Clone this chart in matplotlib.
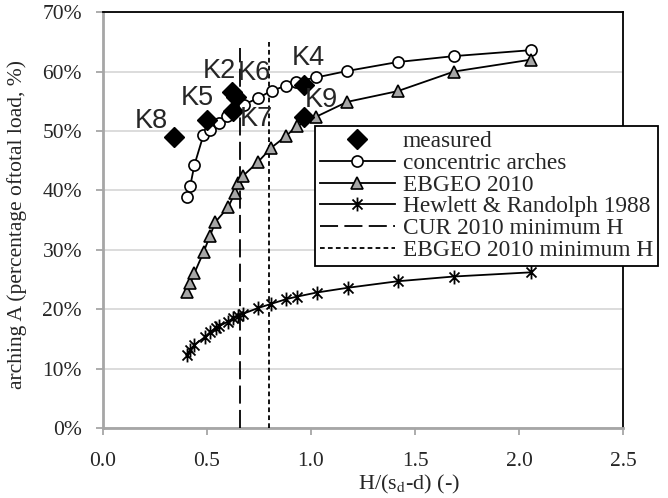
import matplotlib
matplotlib.use("Agg")
import matplotlib.pyplot as plt
from matplotlib.path import Path
from matplotlib.ticker import PercentFormatter, MultipleLocator

plt.rcParams['font.family'] = ['Liberation Serif', 'DejaVu Serif']
plt.rcParams['mathtext.fontset'] = 'stix'

# measured points
meas_names = ['K8', 'K5', 'K2', 'K6', 'K7', 'K4', 'K9']
meas_x = [0.341, 0.500, 0.620, 0.640, 0.625, 0.965, 0.965]
meas_y = [48.9, 51.8, 56.5, 55.8, 53.3, 57.7, 52.3]

# concentric arches
conc_x = [0.403, 0.420, 0.440, 0.483, 0.515, 0.557, 0.597, 0.635, 0.676, 0.743,
          0.812, 0.880, 0.927, 1.025, 1.174, 1.416, 1.687, 2.056]
conc_y = [38.9, 40.8, 44.3, 49.3, 50.1, 51.3, 52.5, 53.5, 54.4, 55.5,
          56.8, 57.6, 58.3, 59.0, 60.1, 61.6, 62.6, 63.6]

# EBGEO 2010
ebgeo_x = [0.403, 0.420, 0.440, 0.485, 0.515, 0.541, 0.603, 0.633, 0.651, 0.675,
           0.743, 0.810, 0.882, 0.931, 1.025, 1.174, 1.416, 1.687, 2.056]
ebgeo_y = [22.9, 24.4, 26.1, 29.7, 32.4, 34.7, 37.2, 39.5, 41.2, 42.5,
           44.7, 47.2, 49.2, 50.8, 52.4, 54.9, 56.7, 60.0, 62.0]

# Hewlett & Randolph 1988
hr_x = [0.403, 0.420, 0.440, 0.490, 0.517, 0.545, 0.557, 0.600, 0.627, 0.648,
        0.672, 0.746, 0.809, 0.882, 0.931, 1.027, 1.176, 1.416, 1.687, 2.056]
hr_y = [12.3, 13.2, 14.0, 15.3, 16.2, 16.8, 17.1, 17.9, 18.5, 18.8,
        19.2, 20.2, 20.9, 21.7, 22.1, 22.8, 23.6, 24.7, 25.5, 26.2]

# minimum H lines
cur_min_x = 0.66
cur_min_top = 64.0
ebgeo_min_x = 0.80
ebgeo_min_top = 65.0

# label offsets in pixels
label_offsets = {'K8': (-23, 16), 'K5': (-10, 22), 'K2': (-13, 21), 'K6': (18, 24),
                 'K7': (23, -8), 'K4': (5, 27), 'K9': (18, 17)}

# Excel-like asterisk marker
d = 0.72
star = Path([(0, -1), (0, 1), (-d, -d), (d, d), (-d, d), (d, -d)],
            [Path.MOVETO, Path.LINETO, Path.MOVETO, Path.LINETO, Path.MOVETO, Path.LINETO])

fig = plt.figure(figsize=(6.68, 4.98), dpi=100)
ax = fig.add_axes([0.154, 0.1406, 0.779, 0.835])

ax.yaxis.grid(True, color='#d9d9d9', linewidth=1.3)
ax.set_axisbelow(True)

ax.plot(meas_x, meas_y, linestyle='none', marker='D', markersize=10,
        color='black', label='measured', zorder=5)
ax.plot(conc_x, conc_y, color='black', lw=1.3, marker='o', markersize=8,
        markerfacecolor='white', markeredgecolor='black', markeredgewidth=1.2,
        label='concentric arches', zorder=4)
ax.plot(ebgeo_x, ebgeo_y, color='black', lw=1.3, marker='^', markersize=9,
        markerfacecolor='#a6a6a6', markeredgecolor='black', markeredgewidth=1.2,
        label='EBGEO 2010', zorder=4)
ax.plot(hr_x, hr_y, color='black', lw=1.3, marker=star, markersize=10,
        markeredgecolor='black', markeredgewidth=1.3,
        label='Hewlett & Randolph 1988', zorder=4)
ax.plot([cur_min_x, cur_min_x], [0, cur_min_top], color='black', lw=1.3,
        dashes=(10, 3.5), label='CUR 2010 minimum H', zorder=3)
ax.plot([ebgeo_min_x, ebgeo_min_x], [0, ebgeo_min_top], color='black', lw=1.3,
        dashes=(2.6, 1.8), label='EBGEO 2010 minimum H', zorder=3)

for name, x, y in zip(meas_names, meas_x, meas_y):
    ax.annotate(name, (x, y), xytext=label_offsets[name], textcoords='offset pixels',
                ha='center', va='center', fontsize=19.5, family='Liberation Sans',
                color='#262626', zorder=6)

ax.set_xlim(0, 2.5)
ax.set_ylim(0, 70)
ax.xaxis.set_major_locator(MultipleLocator(0.5))
ax.yaxis.set_major_locator(MultipleLocator(10))
ax.yaxis.set_major_formatter(PercentFormatter(100, decimals=0))
ax.xaxis.set_major_formatter(plt.FuncFormatter(lambda v, p: f"{v:.1f}"))

for s in ['left', 'bottom']:
    ax.spines[s].set_color('#a6a6a6')
    ax.spines[s].set_linewidth(2)
for s in ['top', 'right']:
    ax.spines[s].set_color('black')
    ax.spines[s].set_linewidth(1.3)
ax.tick_params(axis='both', colors='#a6a6a6', labelcolor='#262626', labelsize=15.5,
               length=5, width=1.3, direction='out')
ax.tick_params(axis='x', pad=12)
ax.tick_params(axis='y', pad=10)

ax.set_xlabel(r"H/(s$_{\rm d}$-d) (-)", fontsize=16, color='#262626')
ax.xaxis.set_label_coords(0.588, -0.108)
ax.set_ylabel("arching A (percentage oftotal load, %)", fontsize=15.5, color='#262626')
ax.yaxis.set_label_coords(-0.145, 0.49)

leg = ax.legend(loc='upper left', bbox_to_anchor=(0.408, 0.726), fontsize=16.8,
                frameon=True, fancybox=False, edgecolor='black', framealpha=1,
                handlelength=3.2, handletextpad=0.35, borderpad=0.2,
                labelspacing=0.02, borderaxespad=0)
leg.get_frame().set_linewidth(1.3)
leg.set_zorder(10)
for t in leg.get_texts():
    t.set_color('#262626')

fig.savefig('out.png', dpi=100)
